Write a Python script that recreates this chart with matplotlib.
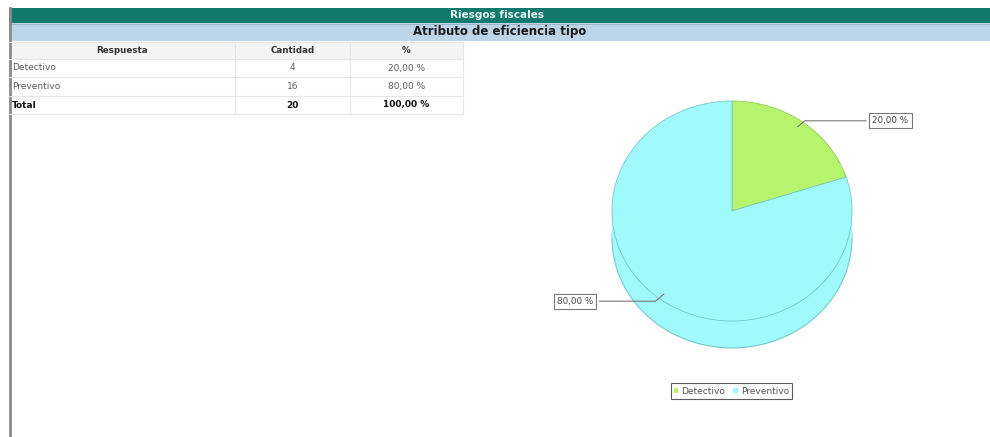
import matplotlib
matplotlib.use("Agg")
import matplotlib.pyplot as plt
from matplotlib.patches import Rectangle, Patch

##### Data #####
title = "Riesgos fiscales"
subtitle = "Atributo de eficiencia tipo"
headers = ["Respuesta", "Cantidad", "%"]
categories = ["Detectivo", "Preventivo"]
counts = [4, 16]
colors = ["#b5f46c", "#a0fafc"]
edges = ["#8fcf55", "#76c9cc"]

total = sum(counts)
pcts = [c * 100.0 / total for c in counts]


def fmt(p):
    return ("%.2f %%" % p).replace(".", ",")


fig = plt.figure(figsize=(9.9, 4.37), dpi=100)

##### Background layer in pixel coordinates #####
bg = fig.add_axes([0, 0, 1, 1])
bg.set_xlim(0, 990)
bg.set_ylim(437, 0)
bg.axis("off")

bg.add_patch(Rectangle((9, 8), 981, 15, facecolor="#11796d", edgecolor="none"))
bg.text(497, 15.5, title, color="#eaf6f3", fontsize=7.5, fontweight="bold",
        ha="center", va="center")
bg.add_patch(Rectangle((9, 23), 981, 18, facecolor="#bdd5e8", edgecolor="none"))
bg.plot([9, 990], [23.5, 23.5], color="#9fb9cc", lw=0.8)
bg.text(500, 32, subtitle, color="#1a1a1a", fontsize=8.5, fontweight="bold",
        ha="center", va="center")
bg.plot([9.5, 9.5], [8, 437], color="#8a8a8a", lw=2)

##### Table #####
col_x = [9, 235, 350, 463]
row_y = [42, 59, 77, 96, 114]
grid = "#e6e6e6"
bg.add_patch(Rectangle((col_x[0], row_y[0]), col_x[-1] - col_x[0], row_y[1] - row_y[0],
                       facecolor="#f4f4f4", edgecolor="none"))
for y in row_y:
    bg.plot([col_x[0], col_x[-1]], [y, y], color=grid, lw=0.8)
for x in col_x[1:]:
    bg.plot([x, x], [row_y[0], row_y[-1]], color=grid, lw=0.8)

centers = [(col_x[0] + col_x[1]) / 2, (col_x[1] + col_x[2]) / 2, (col_x[2] + col_x[3]) / 2]
for i, h in enumerate(headers):
    bg.text(centers[i], (row_y[0] + row_y[1]) / 2, h, fontsize=6.3, fontweight="bold",
            color="#333333", ha="center", va="center")

rows = [(categories[i], str(counts[i]), fmt(pcts[i]), "normal") for i in range(len(categories))]
rows.append(("Total", str(total), fmt(sum(pcts)), "bold"))
for r, (name, cnt, pct, w) in enumerate(rows):
    yc = (row_y[r + 1] + row_y[r + 2]) / 2
    col = "#111111" if w == "bold" else "#5a5a5a"
    bg.text(12, yc, name, fontsize=6.5, fontweight=w, color=col, ha="left", va="center")
    bg.text(centers[1], yc, cnt, fontsize=6.5, fontweight=w, color=col, ha="center", va="center")
    bg.text(centers[2], yc, pct, fontsize=6.5, fontweight=w, color=col, ha="center", va="center")

##### Pie (pseudo 3D) #####
# centre (732, 211) px, rx = 120 px, ry = 110 px
cx, cy, rx, ry = 732, 211, 120, 110
x0, x1 = -1.1, 1.1
y0, y1 = -1.5, 1.1
left = (cx + x0 * rx) / 990
width = (x1 - x0) * rx / 990
bottom = 1 - (cy - y0 * ry) / 437
height = (y1 - y0) * ry / 437
ax = fig.add_axes([left, bottom, width, height])
depth = 0.245

base, _ = ax.pie(counts, colors=colors, startangle=90, counterclock=False,
                 center=(0, -depth), wedgeprops=dict(linewidth=0.8))
for w, e in zip(base, edges):
    w.set_edgecolor(e)
    w.set_zorder(1)
ax.add_patch(Rectangle((-1, -depth), 2, depth, facecolor=colors[1], edgecolor="none", zorder=2))
top, _ = ax.pie(counts, colors=colors, startangle=90, counterclock=False,
                wedgeprops=dict(linewidth=0.6))
for w, e in zip(top, edges):
    w.set_edgecolor(e)
    w.set_zorder(3)

ax.set_aspect("auto")
ax.set_xlim(x0, x1)
ax.set_ylim(y0, y1)
ax.axis("off")

label_pos = [(1.32, 0.82), (-1.31, -0.82)]
point_pos = [(0.53, 0.75), (-0.55, -0.74)]
for i in range(len(counts)):
    ax.annotate(fmt(pcts[i]), xy=point_pos[i], xytext=label_pos[i],
                fontsize=6.3, color="#444444", ha="center", va="center",
                annotation_clip=False, zorder=5,
                bbox=dict(boxstyle="square,pad=0.35", facecolor="white", edgecolor="#777777", lw=0.8),
                arrowprops=dict(arrowstyle="-", color="#777777", lw=0.8,
                                connectionstyle="angle,angleA=0,angleB=40,rad=0"))

handles = [Patch(facecolor=colors[i], edgecolor="none", label=categories[i]) for i in range(len(categories))]
leg = fig.legend(handles=handles, loc="center", bbox_to_anchor=(731.5 / 990, 1 - 391 / 437),
                 ncol=2, fontsize=6.5, frameon=True, fancybox=False, handlelength=0.5,
                 handleheight=0.5, handletextpad=0.35, columnspacing=0.9, borderpad=0.35)
leg.get_frame().set_edgecolor("#333333")
leg.get_frame().set_linewidth(0.8)
for t in leg.get_texts():
    t.set_color("#555555")

fig.savefig("out.png", dpi=100, facecolor="white")
